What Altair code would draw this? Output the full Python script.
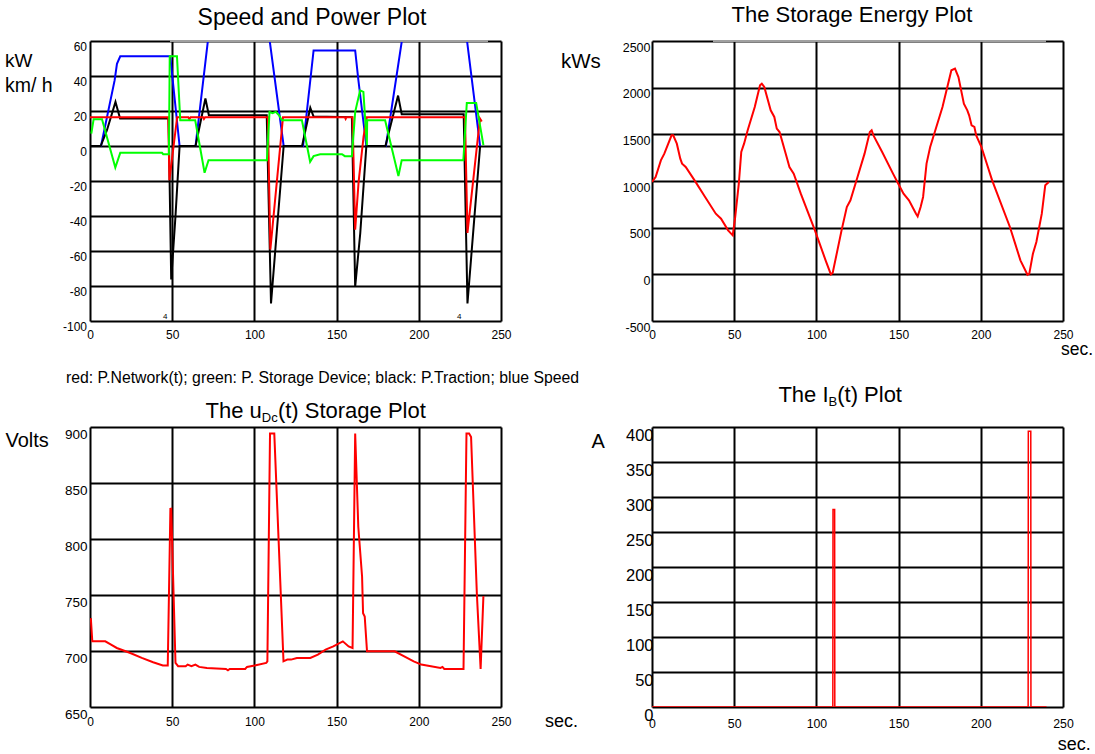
import altair as alt
import pandas as pd

FONT = "Liberation Sans"

# ---------------- data ----------------
x_ticks = [0, 50, 100, 150, 200, 250]

# Speed and Power Plot
speed_t = [0, 6.7, 15.0, 16.4, 18.4, 48.8, 54.5, 64.2, 74.2, 106.5, 117.8, 129.6, 136.0, 161.3, 163.2, 168.1,
           180.0, 192.9, 226.7, 237.3]
speed_v = [0, 0, 37.6, 47.0, 51.3, 51.3, 0, 0, 80, 80, 0, 0, 54.6, 54.6, 38, 0, 0, 80, 80, 0]

net_t = [0, 47.6, 48.3, 53.0, 59.8, 60.4, 61.2, 68.8, 69.3, 70.0, 108.2, 109.7, 117.4, 155.0, 155.5, 156.0,
         159.7, 161.3, 163.4, 166.4, 168.4, 228.1, 229.6, 237.2, 238.3]
net_v = [16.5, 16.5, -19.5, 16.5, 16.5, 15.3, 16.5, 16.5, 15.5, 16.5, 16.5, -59.2, 16.5, 16.5, 15.5, 16.5,
         16.5, -47.8, -20.3, 5.3, 16.5, 16.5, -49.7, 15.7, 14.0]

trac_t = [0, 6.5, 10.3, 15.5, 18.3, 47.8, 49.4, 52.0, 54.5, 64.2, 70.2, 72.3, 107.5, 110.1, 117.8, 129.0,
          134.0, 136.0, 159.3, 161.3, 164.4, 168.1, 179.7, 187.4, 189.6, 227.3, 229.6, 237.3]
trac_v = [0, 0, 9, 25.2, 15.7, 15.7, -76.3, -40, 0, 0, 27.1, 17.6, 17.6, -90, 0, 0,
          21.8, 16.8, 16.5, -80.4, -49.7, 0, 0, 28.8, 18.2, 18.2, -90, 0]

stor_t = [0.8, 2.2, 7.3, 15.4, 18.4, 43.8, 44.5, 48.0, 48.5, 52.9, 54.9, 64.0, 69.7, 72.1, 107.6, 109.2,
          111.0, 113.0, 115.0, 116.7, 128.9, 133.9, 136.0, 140.0, 153.3, 155.0, 159.3, 161.3, 164.3, 166.3,
          168.4, 168.6, 179.5, 187.6, 189.6, 227.1, 229.2, 234.9, 239.3]
stor_v = [7.1, 15.3, 15.3, -12.3, -3.9, -3.9, -4.7, -4.7, 51.3, 51.3, 14.7, 14.7, -15.3, -8.1, -8.1, 19.5,
          18.8, 19.5, 17.5, 14.7, 14.7, -9.0, -5.8, -4.7, -4.7, -5.8, -5.8, 19.5, 31.8, 30.9,
          0.5, 14.7, 14.7, -17.2, -8.1, -8.1, 24.6, 24.6, 0.5]

# Storage energy (kWs)
energy_t = [0, 2.2, 5.4, 7.5, 11.9, 12.9, 15.1, 17.2, 18.3, 20.5, 25.9, 32.3, 38.8, 42.0, 46.3,
            49.1, 50.6, 52.8, 54.3, 56.0, 58.2, 62.5, 65.7, 66.8, 68.3, 72.2, 74.4, 75.9, 77.6, 81.9,
            83.6, 86.2, 90.5, 99.1, 105.6, 108.8, 109.9, 115.3, 118.5, 120.7, 125.0, 129.3, 132.5, 133.6, 134.7,
            140.0, 146.6, 149.8, 153.0, 156.3, 160.6, 161.6, 163.4, 164.9, 167.0, 169.2, 176.7, 182.1, 184.3, 186.4,
            189.7, 191.8, 192.9, 194.4, 196.1, 197.2, 200.4, 206.9, 217.7, 224.1, 228.4, 229.5, 231.7, 233.8, 237.1,
            239.2, 241.4]
energy_v = [989, 1043, 1221, 1293, 1489, 1489, 1400, 1239, 1186, 1150, 1007, 829, 650, 596, 471,
            418, 614, 971, 1311, 1400, 1543, 1793, 2025, 2043, 2007, 1757, 1686, 1561, 1525, 1257,
            1150, 1079, 864, 471, 150, 0, 14, 471, 721, 793, 1043, 1293, 1525, 1543, 1489,
            1311, 1079, 971, 864, 793, 650, 621, 721, 829, 1186, 1364, 1793, 2186, 2204, 2114,
            1829, 1757, 1704, 1596, 1579, 1489, 1364, 1007, 507, 150, -5, 7, 221, 346, 650,
            954, 989]

# u_Dc storage voltage
udc_t = [0.5, 1.4, 9.3, 12.8, 16.3, 24.5, 31.5, 38.4, 44.3, 47.3, 48.9, 49.4, 52.0, 53.6, 58.2,
         59.4, 61.7, 64.1, 66.4, 71.1, 82.7, 83.9, 85.0, 94.4, 95.5, 100.2, 107.2, 107.9, 109.5, 112.1,
         117.7, 120.0, 122.3, 125.8, 134.0, 138.6, 143.3, 148.0, 153.8, 157.3, 159.7, 161.3, 163.2, 165.5, 166.1,
         167.1, 168.5, 185.3, 196.9, 201.5, 207.4, 213.2, 214.4, 215.5, 227.2, 229.0, 230.6, 231.8, 235.3, 237.6,
         239.3]
udc_v = [729.3, 708.6, 708.6, 705.6, 702.7, 698.2, 693.8, 690.0, 687.0, 687.0, 826.9, 827.0, 689.4, 686.4, 686.4,
         687.9, 686.4, 687.9, 685.8, 684.9, 684.0, 682.8, 684.0, 684.0, 685.8, 687.0, 689.4, 690.8, 894.1, 894.1,
         690.8, 692.3, 692.3, 693.8, 693.8, 696.7, 701.2, 704.1, 708.6, 704.1, 702.7, 894.1, 810.7, 766.3, 733.7,
         730.8, 699.7, 699.7, 690.8, 687.9, 686.4, 684.9, 685.8, 684.0, 684.0, 894.1, 894.1, 891.1, 751.5, 684.0,
         749.0]

# I_B current
ib_t = [0, 110.0, 110.1, 111.1, 111.2, 228.8, 228.9, 230.4, 230.5, 240]
ib_v = [0, 0, 282, 282, 0, 0, 394, 394, 0, 0]

tl_y_ticks = [-100, -80, -60, -40, -20, 0, 20, 40, 60]
tr_y_ticks = [-500, 0, 500, 1000, 1500, 2000, 2500]
bl_y_ticks = [650, 700, 750, 800, 850, 900]
br_y_ticks = [0, 50, 100, 150, 200, 250, 300, 350, 400]

W, H = 411, 280
DUMMY = pd.DataFrame({"k": [0]})


def xaxis(size, pad):
    return alt.Axis(values=x_ticks, grid=True, gridColor="black", gridWidth=2, gridOpacity=1,
                    ticks=False, domain=False, labelFontSize=size, labelPadding=pad, labelFont=FONT,
                    labelColor="black", labelFlush=False, labelOverlap=False, title=None,
                    labelExpr="'' + datum.value")


def yaxis(vals, size, pad):
    return alt.Axis(values=vals, grid=True, gridColor="black", gridWidth=2, gridOpacity=1,
                    ticks=False, domain=False, labelFontSize=size, labelPadding=pad, labelFont=FONT,
                    labelBaseline="top", labelAlign="right", labelColor="black", labelFlush=False,
                    labelOverlap=False, title=None, labelExpr="'' + datum.value")


def line(ts, vs, color, xdom, ydom, xax, yax, sw=2):
    d = pd.DataFrame({"t": ts, "v": vs})
    return alt.Chart(d).mark_line(color=color, strokeWidth=sw, clip=True).encode(
        x=alt.X("t:Q", scale=alt.Scale(domain=xdom, nice=False, zero=False), axis=xax),
        y=alt.Y("v:Q", scale=alt.Scale(domain=ydom, nice=False, zero=False), axis=yax),
    )


def txt(s, x, y, size, align="left"):
    return alt.Chart(DUMMY).mark_text(text=s, font=FONT, fontSize=size, color="black", align=align,
                                      baseline="alphabetic").encode(x=alt.value(x), y=alt.value(y))


def gray_top(x1, x2):
    return alt.Chart(DUMMY).mark_rule(color="#a0a0a0", strokeWidth=2).encode(
        x=alt.value(x1), x2=alt.value(x2), y=alt.value(0))


# ---------------- top-left ----------------
xa = xaxis(12, 8)
ya = yaxis(tl_y_ticks, 12, 3.5)
dom_x = [0, 250]
tl = alt.layer(
    line(speed_t, speed_v, "#0000FF", dom_x, [-100, 60], xa, ya),
    line(trac_t, trac_v, "#000000", dom_x, [-100, 60], xa, ya),
    line(net_t, net_v, "#FF0000", dom_x, [-100, 60], xa, ya),
    line(stor_t, stor_v, "#00FF00", dom_x, [-100, 60], xa, ya),
    gray_top(80, 398),
    txt("Speed and Power Plot", 222, -16, 23, "center"),
    txt("kW", -85, 26, 19),
    txt("km/ h", -85, 51, 19.5),
    txt("4", 73, 278, 8),
    txt("4", 367, 278, 8),
    txt("red: P.Network(t); green: P. Storage Device; black:  P.Traction; blue Speed", -24, 342, 15.8),
    alt.Chart(DUMMY).mark_rule(opacity=0, strokeWidth=0.01).encode(
        x=alt.value(-90), y=alt.value(-41), y2=alt.value(0)),
).properties(width=W, height=H)

# ---------------- top-right ----------------
xa2 = xaxis(12, 8)
ya2 = yaxis(tr_y_ticks, 12.5, 2)
tr = alt.layer(
    line(energy_t, energy_v, "#FF0000", dom_x, [-500, 2500], xa2, ya2),
    gray_top(61, 394),
    txt("The Storage Energy Plot", 200, -19, 22, "center"),
    txt("kWs", -91, 27, 20.5),
    txt("sec.", 409, 314, 17.5),
).properties(width=W, height=H)

# ---------------- bottom-left ----------------
xa3 = xaxis(12, 9.5)
ya3 = yaxis(bl_y_ticks, 13.5, 3)
bl = alt.layer(
    line(udc_t, udc_v, "#FF0000", dom_x, [650, 900], xa3, ya3),
    txt("The u", 115.5, -9, 22),
    txt("Dc", 171.8, -5, 13),
    txt("(t) Storage Plot", 187.9, -9, 22),
    txt("Volts", -84.5, 20, 20),
    txt("sec.", 455, 299.5, 18),
).properties(width=W, height=H)

# ---------------- bottom-right ----------------
xa4 = xaxis(12.3, 10.5)
ya4 = yaxis(br_y_ticks, 16.5, -1)
br = alt.layer(
    line(ib_t, ib_v, "#FF0000", dom_x, [0, 400], xa4, ya4, sw=1.5),
    txt("The I", 126.4, -25, 22),
    txt("B", 176.5, -20.6, 13),
    txt("(t) Plot", 185.2, -25, 22),
    txt("A", -60.4, 21, 20),
    txt("sec.", 405.8, 323, 18),
).properties(width=W, height=H)

chart = alt.concat(tl, tr, bl, br, columns=2, spacing={"row": 106, "column": 151}, bounds="flush").properties(
    padding={"left": 0, "top": 0, "right": 0, "bottom": 0}, background="white"
).configure_view(stroke=None)

chart.save("out.html", embed_options={"renderer": "svg", "actions": False})
